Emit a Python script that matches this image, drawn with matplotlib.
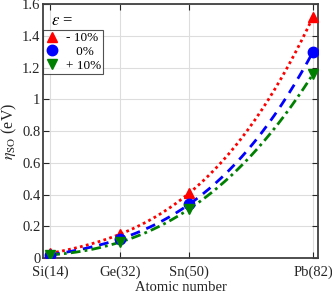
import numpy as np
import matplotlib
matplotlib.use('Agg')
import matplotlib.pyplot as plt
from matplotlib.ticker import FuncFormatter

plt.rcParams['font.family'] = ['Liberation Serif', 'DejaVu Serif']
plt.rcParams['mathtext.fontset'] = 'stix'

# atomic numbers and labels
z = [14, 32, 50, 82]
z_labels = ['Si(14)', 'Ge(32)', 'Sn(50)', 'Pb(82)']

# eta_SO (eV) for each strain
eta_m10 = [0.03, 0.15, 0.41, 1.52]
eta_0 = [0.02, 0.12, 0.34, 1.30]
eta_p10 = [0.02, 0.10, 0.31, 1.16]
strain_labels = ['- 10%', '   0%', '+ 10%']

fig = plt.figure(figsize=(3.32, 2.96), dpi=100)
ax = fig.add_axes([0.13, 0.128, 0.828, 0.858])

series = [(eta_m10, 'red', (0, (1, 1.2)), '^'),
          (eta_0, 'blue', (0, (3.5, 2.5)), 'o'),
          (eta_p10, 'green', (0, (3.5, 1.5, 1, 1.5)), 'v')]
zz = np.linspace(min(z), max(z), 200)
handles = []
for vals, col, ls, mk in series:
    p = np.polyfit(z, vals, 3)
    ax.plot(zz, np.polyval(p, zz), color=col, ls=ls, lw=2, zorder=2)
    h, = ax.plot(z, vals, ls='none', marker=mk, color=col, ms=7.5, zorder=3)
    handles.append(h)

ax.set_xlim(12.2, 83.3)
ax.set_ylim(0, 1.6)
ax.set_xticks(z)
ax.set_xticklabels(z_labels)
ax.set_yticks(np.arange(0, 1.61, 0.2))
ax.yaxis.set_major_formatter(FuncFormatter(lambda v, p: f'{v:g}'))
ax.grid(True, color='#dddddd', lw=0.8)
ax.set_axisbelow(True)
ax.tick_params(direction='in', top=True, right=True, labelsize=10.5,
               color='#262626', labelcolor='#262626', length=4)
ax.tick_params(axis='x', pad=5)
ax.tick_params(axis='y', pad=2)
for s in ax.spines.values():
    s.set_color('#404040')
    s.set_linewidth(1.3)

ax.set_xlabel('Atomic number', fontsize=10.5, labelpad=2, color='#262626')
ax.set_ylabel(r'$\eta_{\rm SO}$ (eV)', fontsize=11.5, labelpad=2,
              color='#262626')

ax.text(0.03, 0.965, r'$\varepsilon$ =', transform=ax.transAxes,
        fontsize=12, va='top')
leg = ax.legend(handles, strain_labels, loc='upper left',
                bbox_to_anchor=(0.0, 0.9), fontsize=9.5, frameon=True,
                fancybox=False, edgecolor='#262626', handlelength=1.0,
                handletextpad=0.5, borderpad=0.2, labelspacing=0.1,
                borderaxespad=0.0)
leg.get_frame().set_linewidth(0.8)

fig.savefig('out.png', dpi=100)
